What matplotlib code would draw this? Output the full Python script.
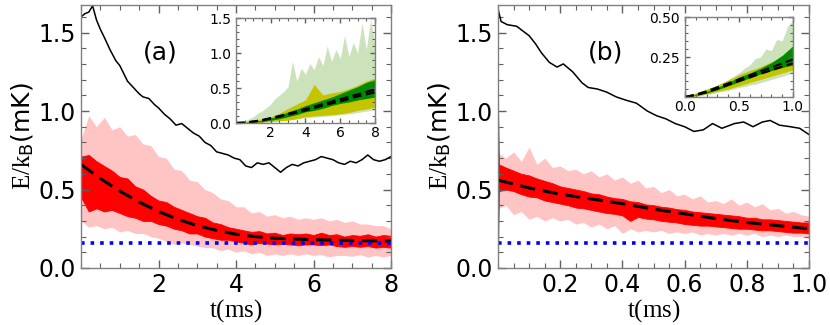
import numpy as np
import matplotlib
matplotlib.use("Agg")
import matplotlib.pyplot as plt
from matplotlib.ticker import MultipleLocator, FormatStrFormatter

plt.rcParams['mathtext.fontset'] = 'custom'
plt.rcParams['mathtext.rm'] = 'Liberation Serif'
plt.rcParams['mathtext.it'] = 'Liberation Serif:italic'
plt.rcParams['mathtext.sf'] = 'DejaVu Sans'

# ---------------- panel (a) data ----------------
t_a_black = [0, 0.1, 0.2, 0.3, 0.4, 0.5, 0.6, 0.75, 0.9, 1.0, 1.1, 1.2, 1.35, 1.5, 1.6,
             1.75, 1.9, 2.0, 2.15, 2.3, 2.45, 2.6, 2.75, 2.9, 3.05, 3.2, 3.35, 3.5, 3.65,
             3.8, 3.95, 4.1, 4.25, 4.4, 4.55, 4.7, 4.85, 5.0, 5.15, 5.3, 5.45, 5.6, 5.75,
             5.9, 6.05, 6.2, 6.35, 6.5, 6.65, 6.8, 6.95, 7.1, 7.25, 7.4, 7.55, 7.7, 7.85, 8.0]
e_a_black = [1.60, 1.62, 1.63, 1.67, 1.58, 1.52, 1.47, 1.39, 1.32, 1.29, 1.24, 1.19, 1.15,
             1.11, 1.09, 1.08, 1.04, 1.02, 0.98, 0.95, 0.91, 0.92, 0.89, 0.86, 0.84, 0.80,
             0.78, 0.74, 0.73, 0.72, 0.70, 0.69, 0.65, 0.64, 0.67, 0.66, 0.67, 0.64, 0.61,
             0.64, 0.66, 0.65, 0.67, 0.68, 0.69, 0.71, 0.70, 0.69, 0.67, 0.66, 0.68, 0.67,
             0.69, 0.72, 0.69, 0.68, 0.69, 0.71]

t_a = np.linspace(0, 8, 41)
pink_a_hi = [0.82, 0.97, 0.90, 0.96, 0.88, 0.90, 0.84, 0.85, 0.79, 0.78, 0.71, 0.70, 0.63,
             0.62, 0.56, 0.55, 0.50, 0.48, 0.44, 0.43, 0.39, 0.39, 0.35, 0.36, 0.33, 0.34,
             0.32, 0.33, 0.31, 0.32, 0.31, 0.32, 0.30, 0.31, 0.29, 0.30, 0.28, 0.28, 0.27,
             0.27, 0.25]
pink_a_lo = [0.30, 0.26, 0.27, 0.25, 0.26, 0.23, 0.24, 0.22, 0.22, 0.20, 0.19, 0.17, 0.15,
             0.16, 0.15, 0.14, 0.13, 0.13, 0.11, 0.12, 0.10, 0.11, 0.09, 0.10, 0.08, 0.09,
             0.08, 0.09, 0.08, 0.09, 0.08, 0.085, 0.07, 0.08, 0.08, 0.075, 0.085, 0.07, 0.08,
             0.07, 0.08]
red_a_hi = [0.71, 0.72, 0.68, 0.65, 0.62, 0.58, 0.57, 0.52, 0.50, 0.46, 0.43, 0.42, 0.39,
            0.37, 0.35, 0.33, 0.32, 0.29, 0.28, 0.26, 0.25, 0.24, 0.23, 0.235, 0.22, 0.225,
            0.21, 0.22, 0.215, 0.22, 0.21, 0.225, 0.21, 0.215, 0.20, 0.21, 0.205, 0.215,
            0.20, 0.21, 0.205]
red_a_lo = [0.45, 0.36, 0.38, 0.36, 0.37, 0.35, 0.33, 0.32, 0.30, 0.30, 0.28, 0.27, 0.25,
            0.24, 0.22, 0.22, 0.20, 0.19, 0.18, 0.18, 0.17, 0.16, 0.15, 0.16, 0.155, 0.15,
            0.155, 0.15, 0.145, 0.15, 0.15, 0.145, 0.15, 0.14, 0.135, 0.14, 0.135, 0.14,
            0.13, 0.135, 0.13]
t_a_mean = [0, 0.5, 1.0, 1.5, 2.0, 2.5, 3.0, 3.5, 4.0, 4.5, 5.0, 5.5, 6.0, 6.5, 7.0, 7.5, 8.0]
e_a_mean = [0.66, 0.57, 0.49, 0.42, 0.36, 0.31, 0.27, 0.24, 0.215, 0.20, 0.19, 0.185,
            0.18, 0.178, 0.175, 0.173, 0.172]
e_floor = 0.16

# inset (a)
ti_a_fine = np.linspace(0, 8, 33)
lg_a_hi = [0.0, 0.01, 0.03, 0.06, 0.09, 0.14, 0.17, 0.22, 0.27, 0.35, 0.40, 0.45, 0.52,
           0.88, 0.60, 0.78, 0.70, 0.85, 0.76, 0.95, 0.82, 1.10, 0.88, 1.05, 0.92, 1.25,
           0.95, 1.15, 1.00, 1.43, 1.05, 1.48, 1.10]
lg_a_lo = [0.0, 0.0, 0.005, 0.01, 0.015, 0.02, 0.025, 0.03, 0.035, 0.04, 0.045, 0.05,
           0.055, 0.06, 0.065, 0.07, 0.075, 0.08, 0.085, 0.09, 0.095, 0.10, 0.105, 0.11,
           0.12, 0.125, 0.13, 0.14, 0.15, 0.16, 0.17, 0.18, 0.19]
ti_a = np.linspace(0, 8, 17)
yel_a_hi = [0.0, 0.01, 0.03, 0.06, 0.09, 0.14, 0.21, 0.27, 0.33, 0.55, 0.40, 0.43, 0.45,
            0.49, 0.54, 0.60, 0.64]
yel_a_lo = [0.0, 0.0, 0.005, 0.01, 0.02, 0.03, 0.04, 0.06, 0.09, 0.10, 0.11, 0.12, 0.13,
            0.15, 0.18, 0.20, 0.23]
grn_a_hi = [0.0, 0.01, 0.02, 0.04, 0.07, 0.11, 0.16, 0.20, 0.25, 0.29, 0.33, 0.37, 0.42,
            0.47, 0.52, 0.58, 0.62]
grn_a_lo = [0.0, 0.0, 0.01, 0.02, 0.04, 0.06, 0.09, 0.12, 0.16, 0.18, 0.21, 0.25, 0.28,
            0.30, 0.33, 0.35, 0.37]
fit1_a = [0.0, 0.005, 0.02, 0.04, 0.07, 0.10, 0.13, 0.165, 0.20, 0.235, 0.27, 0.305,
          0.34, 0.375, 0.41, 0.445, 0.48]
fit2_a = [0.0, 0.005, 0.02, 0.04, 0.065, 0.09, 0.12, 0.15, 0.18, 0.215, 0.25, 0.28,
          0.31, 0.345, 0.38, 0.41, 0.44]

# ---------------- panel (b) data ----------------
t_b_black = [0, 0.01, 0.03, 0.06, 0.08, 0.1, 0.12, 0.14, 0.165, 0.19, 0.21, 0.24, 0.27,
             0.29, 0.32, 0.35, 0.38, 0.41, 0.445, 0.48, 0.51, 0.54, 0.57, 0.6, 0.63, 0.66,
             0.69, 0.72, 0.76, 0.79, 0.82, 0.85, 0.875, 0.905, 0.94, 0.97, 1.0]
e_b_black = [1.65, 1.57, 1.55, 1.54, 1.51, 1.48, 1.43, 1.37, 1.31, 1.28, 1.30, 1.25, 1.18,
             1.15, 1.14, 1.12, 1.09, 1.07, 1.05, 1.00, 0.97, 0.95, 0.92, 0.90, 0.87, 0.88,
             0.92, 0.89, 0.92, 0.93, 0.90, 0.93, 0.94, 0.91, 0.90, 0.89, 0.85]

t_b = np.r_[0, 0.003, np.linspace(0.025, 1.0, 40)]
red_b_hi = [1.05, 0.66, 0.64, 0.62, 0.60, 0.59, 0.57, 0.555, 0.54, 0.52, 0.51, 0.50, 0.49,
            0.475, 0.47, 0.455, 0.445, 0.44, 0.425, 0.42, 0.405, 0.40, 0.39, 0.385, 0.375,
            0.37, 0.36, 0.355, 0.35, 0.345, 0.34, 0.335, 0.33, 0.32, 0.32, 0.31, 0.31,
            0.305, 0.30, 0.295, 0.29, 0.29]
red_b_lo = [0.10, 0.49, 0.50, 0.49, 0.47, 0.455, 0.45, 0.43, 0.42, 0.41, 0.40, 0.385, 0.38,
            0.37, 0.36, 0.35, 0.345, 0.335, 0.30, 0.325, 0.315, 0.31, 0.30, 0.295, 0.29,
            0.28, 0.275, 0.27, 0.27, 0.265, 0.26, 0.255, 0.25, 0.25, 0.245, 0.24, 0.24,
            0.235, 0.23, 0.225, 0.225, 0.22]
pink_b_hi = [0.75, 0.73, 0.70, 0.74, 0.68, 0.77, 0.66, 0.70, 0.64, 0.65, 0.62, 0.63, 0.60,
             0.62, 0.58, 0.60, 0.56, 0.58, 0.54, 0.56, 0.51, 0.52, 0.48, 0.50, 0.46, 0.47,
             0.44, 0.46, 0.42, 0.43, 0.41, 0.44, 0.40, 0.42, 0.39, 0.41, 0.37, 0.38, 0.35,
             0.36, 0.34, 0.33]
pink_b_lo = [0.10, 0.38, 0.40, 0.34, 0.36, 0.31, 0.33, 0.30, 0.32, 0.30, 0.31, 0.28, 0.29,
             0.26, 0.28, 0.25, 0.27, 0.22, 0.25, 0.23, 0.24, 0.23, 0.24, 0.22, 0.23, 0.22,
             0.23, 0.21, 0.22, 0.21, 0.22, 0.21, 0.22, 0.21, 0.22, 0.20, 0.21, 0.20, 0.21,
             0.20, 0.20, 0.19]
t_b_mean = [0, 0.1, 0.2, 0.3, 0.4, 0.5, 0.6, 0.7, 0.8, 0.9, 1.0]
e_b_mean = [0.56, 0.51, 0.47, 0.44, 0.41, 0.375, 0.345, 0.315, 0.29, 0.27, 0.25]

# inset (b)
ti_b_fine = np.linspace(0, 1, 21)
lg_b_hi = [0.0, 0.005, 0.015, 0.03, 0.045, 0.06, 0.075, 0.09, 0.11, 0.13, 0.15, 0.18,
           0.20, 0.24, 0.25, 0.30, 0.29, 0.36, 0.35, 0.44, 0.48]
lg_b_lo = [0.0, 0.0, 0.005, 0.01, 0.015, 0.02, 0.03, 0.035, 0.04, 0.05, 0.06, 0.065,
           0.075, 0.08, 0.09, 0.10, 0.11, 0.12, 0.13, 0.14, 0.15]
ti_b = np.linspace(0, 1, 11)
yel_b_hi = [0.005, 0.025, 0.05, 0.075, 0.105, 0.14, 0.165, 0.19, 0.22, 0.25, 0.29]
yel_b_lo = [0.0, 0.005, 0.02, 0.035, 0.05, 0.07, 0.09, 0.11, 0.13, 0.15, 0.17]
grn_b_hi = [0.0, 0.015, 0.035, 0.06, 0.09, 0.125, 0.15, 0.18, 0.215, 0.26, 0.32]
grn_b_lo = [0.0, 0.01, 0.025, 0.045, 0.07, 0.095, 0.12, 0.145, 0.165, 0.185, 0.20]
fit1_b = [0.0, 0.015, 0.035, 0.06, 0.085, 0.11, 0.135, 0.16, 0.185, 0.21, 0.235]
fit2_b = [0.0, 0.012, 0.03, 0.052, 0.076, 0.10, 0.123, 0.146, 0.168, 0.19, 0.21]

# ---------------- drawing ----------------
fig = plt.figure(figsize=(8.3, 3.25), dpi=100)
ax_a = fig.add_axes([0.0976, 0.1754, 0.3735, 0.809])
ax_b = fig.add_axes([0.600, 0.1754, 0.3747, 0.809])
in_a = fig.add_axes([0.2843, 0.6215, 0.1675, 0.323])
in_b = fig.add_axes([0.8253, 0.7015, 0.1300, 0.246])

dash = (5, 2.5)


def style(ax, size, major_len, minor_len):
    for s in ax.spines.values():
        s.set_color('#808080')
        s.set_linewidth(1.0)
    ax.tick_params(which='both', direction='in', top=True, right=True,
                   color='#606060', labelsize=size)
    ax.tick_params(which='major', length=major_len, width=1.0)
    ax.tick_params(which='minor', length=minor_len, width=0.8)


def main_panel(ax, t_blk, e_blk, t, pk_lo, pk_hi, rd_lo, rd_hi, t_m, e_m, xmax, tag, tag_x):
    ax.fill_between(t, pk_lo, pk_hi, color='#ffc4c4', lw=0)
    ax.fill_between(t, rd_lo, rd_hi, color='#ff0000', lw=0.6, edgecolor='#ff0000')
    ax.plot(t_m, e_m, color='black', lw=2.2, dashes=dash)
    ax.plot(t_blk, e_blk, color='black', lw=1.1)
    ax.axhline(e_floor, color='#0000ff', lw=2.6, ls=':')
    ax.set_xlim(0, xmax)
    ax.set_ylim(0, 1.675)
    ax.yaxis.set_major_locator(MultipleLocator(0.5))
    ax.yaxis.set_minor_locator(MultipleLocator(0.1))
    ax.set_ylabel(r'$\mathrm{E/k}_{\mathsf{B}}$(mK)', fontsize=18, labelpad=2)
    ax.set_xlabel(r'$\mathrm{t(ms)}$', fontsize=18, labelpad=0)
    ax.text(tag_x, 0.82, tag, transform=ax.transAxes, fontsize=18, ha='center', va='center')
    style(ax, 17, 6, 3.5)


main_panel(ax_a, t_a_black, e_a_black, t_a, pink_a_lo, pink_a_hi, red_a_lo, red_a_hi,
           t_a_mean, e_a_mean, 8, '(a)', 0.255)
ax_a.xaxis.set_major_locator(MultipleLocator(2))
ax_a.xaxis.set_minor_locator(MultipleLocator(0.5))
ax_a.set_xticks([2, 4, 6, 8])

main_panel(ax_b, t_b_black, e_b_black, t_b, pink_b_lo, pink_b_hi, red_b_lo, red_b_hi,
           t_b_mean, e_b_mean, 1.0, '(b)', 0.345)
ax_b.set_xticks([0.2, 0.4, 0.6, 0.8, 1.0])
ax_b.xaxis.set_minor_locator(MultipleLocator(0.05))
ax_b.xaxis.set_major_formatter(FormatStrFormatter('%.1f'))


def inset(ax, tf, lg_lo, lg_hi, t, y_lo, y_hi, g_lo, g_hi, f1, f2):
    ax.fill_between(tf, lg_lo, lg_hi, color='#c4ddae', lw=0, alpha=0.85)
    ax.fill_between(t, y_lo, y_hi, color='#c4c400', lw=0)
    ax.fill_between(t, g_lo, g_hi, color='#008a00', lw=0)
    ax.plot(t, f1, color='black', lw=1.6, dashes=(4, 2))
    ax.plot(t, f2, color='black', lw=1.6, dashes=(4, 2))
    style(ax, 10, 3.5, 2)


inset(in_a, ti_a_fine, lg_a_lo, lg_a_hi, ti_a, yel_a_lo, yel_a_hi, grn_a_lo, grn_a_hi,
      fit1_a, fit2_a)
in_a.set_xlim(0, 8)
in_a.set_ylim(0, 1.5)
in_a.set_xticks([2, 4, 6, 8])
in_a.xaxis.set_minor_locator(MultipleLocator(0.5))
in_a.yaxis.set_major_locator(MultipleLocator(0.5))
in_a.yaxis.set_minor_locator(MultipleLocator(0.1))
in_a.yaxis.set_major_formatter(FormatStrFormatter('%.1f'))
in_a.tick_params(axis='x', pad=2)

inset(in_b, ti_b_fine, lg_b_lo, lg_b_hi, ti_b, yel_b_lo, yel_b_hi, grn_b_lo, grn_b_hi,
      fit1_b, fit2_b)
in_b.set_xlim(0, 1)
in_b.set_ylim(0, 0.5)
in_b.set_xticks([0.0, 0.5, 1.0])
in_b.xaxis.set_minor_locator(MultipleLocator(0.1))
in_b.set_yticks([0.25, 0.5])
in_b.yaxis.set_minor_locator(MultipleLocator(0.05))
in_b.yaxis.set_major_formatter(FormatStrFormatter('%.2f'))
in_b.xaxis.set_major_formatter(FormatStrFormatter('%.1f'))
in_b.tick_params(axis='x', pad=2)

fig.savefig('out.png', dpi=100)
